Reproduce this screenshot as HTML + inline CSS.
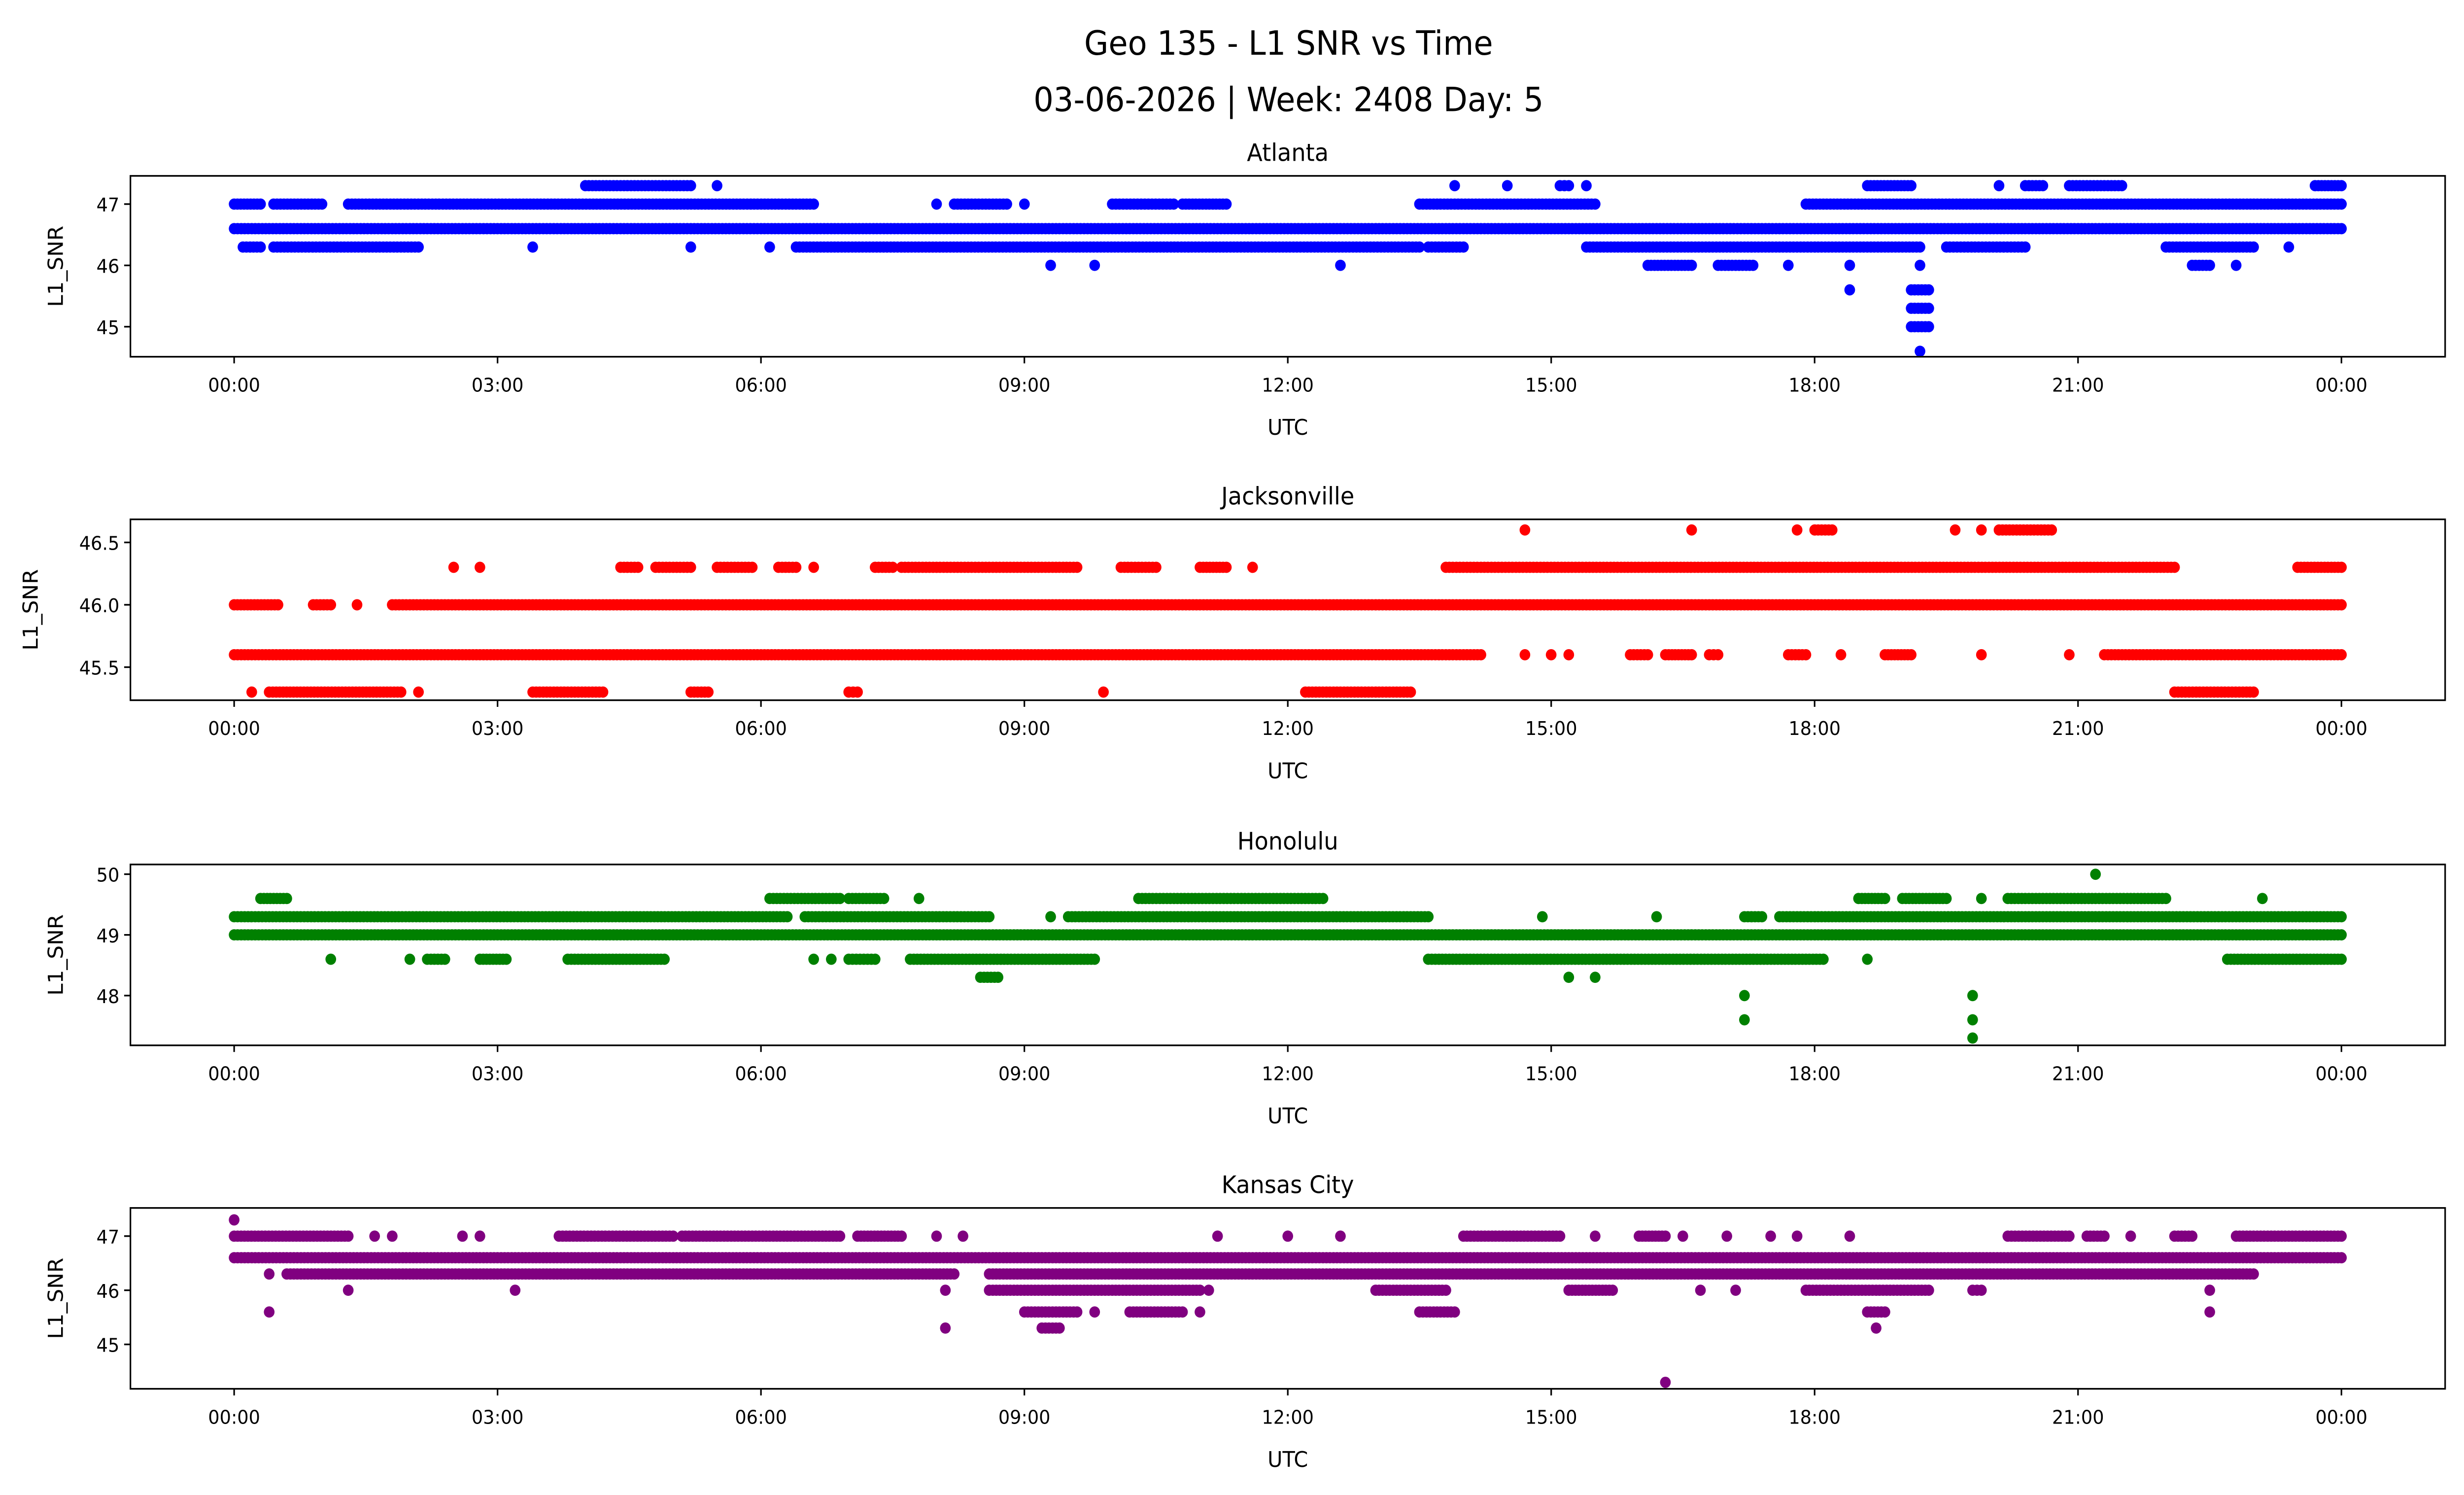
<!DOCTYPE html>
<html><head><meta charset="utf-8"><style>
html,body{margin:0;padding:0;background:#fff;overflow:hidden;width:100%;height:100%;}
svg{display:block;width:100vw;height:100vh;font-family:"DejaVu Sans","Liberation Sans",sans-serif;}
</style></head><body>
<svg id="fig" viewBox="0 0 1568 901" preserveAspectRatio="none" xmlns="http://www.w3.org/2000/svg">
<rect width="1568" height="901" fill="#fff"/>
<text x="820" y="33" font-size="20" text-anchor="middle">Geo 135 - L1 SNR vs Time</text>
<text x="820" y="67" font-size="20" text-anchor="middle">03-06-2026 | Week: 2408 Day: 5</text>
</svg>
<script>
// ---- data: runs of quantized SNR level over hours [level, startHour, endHour] ----
const xTickLabels = ["00:00","03:00","06:00","09:00","12:00","15:00","18:00","21:00","00:00"];
const atlantaRuns = [
 [46.6,0,24],[47.0,0,0.3],[47.0,0.45,1.0],[47.0,1.3,6.6],[47.0,8.0,8.0],[47.0,8.2,8.8],[47.0,9.0,9.0],[47.0,10.0,10.7],[47.0,10.8,11.3],[47.0,13.5,15.5],[47.0,17.9,24],
 [47.3,4.0,5.2],[47.3,5.5,5.5],[47.3,13.9,13.9],[47.3,14.5,14.5],[47.3,15.1,15.2],[47.3,15.4,15.4],[47.3,18.6,19.1],[47.3,20.1,20.1],[47.3,20.4,20.6],[47.3,20.9,21.5],[47.3,23.7,24],
 [46.3,0.1,0.3],[46.3,0.45,2.1],[46.3,3.4,3.4],[46.3,5.2,5.2],[46.3,6.1,6.1],[46.3,6.4,13.5],[46.3,13.6,14.0],[46.3,15.4,19.2],[46.3,19.5,20.4],[46.3,22.0,23.0],[46.3,23.4,23.4],
 [46.0,9.3,9.3],[46.0,9.8,9.8],[46.0,12.6,12.6],[46.0,16.1,16.6],[46.0,16.9,17.3],[46.0,17.7,17.7],[46.0,18.4,18.4],[46.0,19.2,19.2],[46.0,22.3,22.5],[46.0,22.8,22.8],
 [45.6,18.4,18.4],[45.6,19.1,19.3],[45.3,19.1,19.3],[45.0,19.1,19.3],[44.6,19.2,19.2]
];
const jacksonvilleRuns = [
 [46.0,0,0.5],[46.0,0.9,1.1],[46.0,1.4,1.4],[46.0,1.8,24],
 [45.6,0,14.2],[45.6,14.7,14.7],[45.6,15.0,15.0],[45.6,15.2,15.2],[45.6,15.9,16.1],[45.6,16.3,16.6],[45.6,16.8,16.9],[45.6,17.7,17.9],[45.6,18.3,18.3],[45.6,18.8,19.1],[45.6,19.9,19.9],[45.6,20.9,20.9],[45.6,21.3,24],
 [45.3,0.2,0.2],[45.3,0.4,1.9],[45.3,2.1,2.1],[45.3,3.4,4.2],[45.3,5.2,5.4],[45.3,7.0,7.1],[45.3,9.9,9.9],[45.3,12.2,13.4],[45.3,22.1,23.0],
 [46.3,2.5,2.5],[46.3,2.8,2.8],[46.3,4.4,4.6],[46.3,4.8,5.2],[46.3,5.5,5.9],[46.3,6.2,6.4],[46.3,6.6,6.6],[46.3,7.3,7.5],[46.3,7.6,9.6],[46.3,10.1,10.5],[46.3,11.0,11.3],[46.3,11.6,11.6],[46.3,13.8,22.1],[46.3,23.5,24],
 [46.6,14.7,14.7],[46.6,16.6,16.6],[46.6,17.8,17.8],[46.6,18.0,18.2],[46.6,19.6,19.6],[46.6,19.9,19.9],[46.6,20.1,20.7]
];
const honoluluRuns = [
 [49.0,0,24],[49.3,0,6.3],[49.3,6.5,8.6],[49.3,9.3,9.3],[49.3,9.5,13.6],[49.3,14.9,14.9],[49.3,16.2,16.2],[49.3,17.2,17.4],[49.3,17.6,24],
 [49.6,0.3,0.6],[49.6,6.1,6.9],[49.6,7.0,7.4],[49.6,7.8,7.8],[49.6,10.3,12.4],[49.6,18.5,18.8],[49.6,19.0,19.5],[49.6,19.9,19.9],[49.6,20.2,22.0],[49.6,23.1,23.1],
 [48.6,1.1,1.1],[48.6,2.0,2.0],[48.6,2.2,2.4],[48.6,2.8,3.1],[48.6,3.8,4.9],[48.6,6.6,6.6],[48.6,6.8,6.8],[48.6,7.0,7.3],[48.6,7.7,9.8],[48.6,13.6,18.1],[48.6,18.6,18.6],[48.6,22.7,24],
 [48.3,8.5,8.7],[48.3,15.2,15.2],[48.3,15.5,15.5],[48.0,17.2,17.2],[48.0,19.8,19.8],[47.6,17.2,17.2],[47.6,19.8,19.8],[47.3,19.8,19.8],[50.0,21.2,21.2]
];
const kansasCityRuns = [
 [46.6,0,24],[47.3,0,0],[47.0,0,1.3],[47.0,1.6,1.6],[47.0,1.8,1.8],[47.0,2.6,2.6],[47.0,2.8,2.8],[47.0,3.7,5.0],[47.0,5.1,6.9],[47.0,7.1,7.6],[47.0,8.0,8.0],[47.0,8.3,8.3],[47.0,11.2,11.2],[47.0,12.0,12.0],[47.0,12.6,12.6],[47.0,14.0,15.1],[47.0,15.5,15.5],[47.0,16.0,16.3],[47.0,16.5,16.5],[47.0,17.0,17.0],[47.0,17.5,17.5],[47.0,17.8,17.8],[47.0,18.4,18.4],[47.0,20.2,20.9],[47.0,21.1,21.3],[47.0,21.6,21.6],[47.0,22.1,22.3],[47.0,22.8,24],
 [46.3,0.4,0.4],[46.3,0.6,8.2],[46.3,8.6,23.0],
 [46.0,1.3,1.3],[46.0,3.2,3.2],[46.0,8.1,8.1],[46.0,8.6,11.0],[46.0,11.1,11.1],[46.0,13.0,13.8],[46.0,15.2,15.7],[46.0,16.7,16.7],[46.0,17.1,17.1],[46.0,17.9,19.3],[46.0,19.8,19.9],[46.0,22.5,22.5],
 [45.6,0.4,0.4],[45.6,9.0,9.6],[45.6,9.8,9.8],[45.6,10.2,10.8],[45.6,11.0,11.0],[45.6,13.5,13.9],[45.6,18.6,18.8],[45.6,22.5,22.5],
 [45.3,8.1,8.1],[45.3,9.2,9.4],[45.3,18.7,18.7],[44.3,16.3,16.3]
];
const panelNames = ["Atlanta","Jacksonville","Honolulu","Kansas City"];
const panelColors = ["#0000ff","#ff0000","#008000","#800080"];
const panelYTicks = [[45,46,47],[45.5,46.0,46.5],[48,49,50],[45,46,47]];
const panelYTickText = [["45","46","47"],["45.5","46.0","46.5"],["48","49","50"],["45","46","47"]];
const panelYMin = [44.51,45.235,47.18,44.18];
const panelYMax = [47.46,46.685,50.16,47.52];
const panelRuns = [atlantaRuns,jacksonvilleRuns,honoluluRuns,kansasCityRuns];

const NS="http://www.w3.org/2000/svg";
const svg=document.getElementById('fig');
function mk(tag,attrs,parent){const e=document.createElementNS(NS,tag);for(const k in attrs)e.setAttribute(k,attrs[k]);(parent||svg).appendChild(e);return e;}
const X0=149,X1=1490,AXL=83,AXR=1556;
const xScale=h=>X0+(X1-X0)*h/24;
const tops=[106,313,521,728], H=109;
const slugs=["atlanta","jacksonville","honolulu","kansas-city"];
panelNames.forEach((name,i)=>{
  const top=tops[i],bot=top+H;
  const yScale=v=>bot-(v-panelYMin[i])/(panelYMax[i]-panelYMin[i])*H;
  const g=mk('g',{});
  
  
  const t=mk('text',{x:(AXL+AXR)/2,y:top-9,'font-size':14.5,'text-anchor':'middle'},g);
  t.textContent=name;
  
  
  const dots=mk('g',{fill:panelColors[i]},g);
  
  
  panelRuns[i].forEach(r=>{
    const lv=r[0],s=r[1],e=r[2];
    const n=Math.max(1,Math.round((e-s)/0.04)+1);
    for(let k=0;k<n;k++){
      const h=n===1?s:s+(e-s)*k/(n-1);
      const c=mk('circle',{cx:xScale(h).toFixed(1),cy:yScale(lv).toFixed(1),r:3.4},dots);
      
      
    }
  });
  const frame=mk('rect',{x:AXL,y:top,width:AXR-AXL,height:H,fill:'none',stroke:'#000','stroke-width':1},g);
  
  
  xTickLabels.forEach((lab,k)=>{
    const x=xScale(k*3);
    mk('line',{x1:x,x2:x,y1:bot,y2:bot+4,stroke:'#000'},g);
    const tt=mk('text',{x:x,y:bot+21,'font-size':11.5,'text-anchor':'middle'},g);
    tt.textContent=lab;
    
    
  });
  const xl=mk('text',{x:(AXL+AXR)/2,y:bot+47,'font-size':13,'text-anchor':'middle'},g);
  xl.textContent='UTC';
  
  
  panelYTicks[i].forEach((v,k)=>{
    const y=yScale(v);
    mk('line',{x1:AXL-4,x2:AXL,y1:y,y2:y,stroke:'#000'},g);
    const tt=mk('text',{x:AXL-7,y:y+4.5,'font-size':11.5,'text-anchor':'end'},g);
    tt.textContent=panelYTickText[i][k];
    
    
  });
  const yx=(i===1)?24:40;
  const yl=mk('text',{x:yx,y:(top+bot)/2,'font-size':13,'text-anchor':'middle',transform:`rotate(-90 ${yx} ${(top+bot)/2})`},g);
  yl.textContent='L1_SNR';
  
  
});
</script>
</body></html>
